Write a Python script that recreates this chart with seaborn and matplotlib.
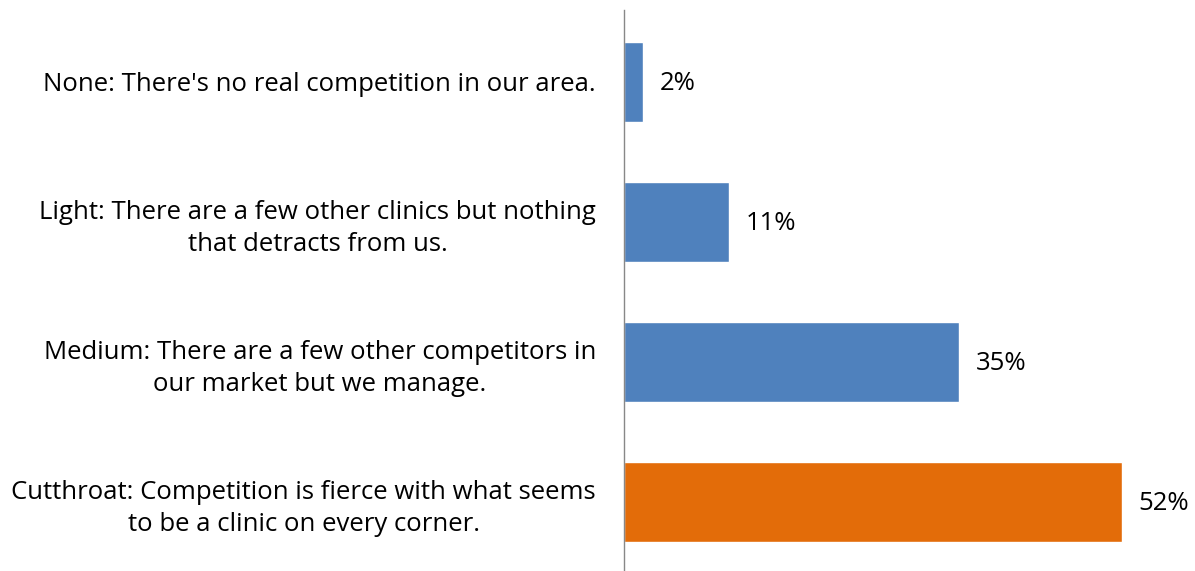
import matplotlib
matplotlib.use("Agg")
import matplotlib.pyplot as plt
import seaborn as sns
import pandas as pd

categories = [
    "None: There's no real competition in our area.",
    "Light: There are a few other clinics but nothing\nthat detracts from us.",
    "Medium: There are a few other competitors in\nour market but we manage.",
    "Cutthroat: Competition is fierce with what seems\nto be a clinic on every corner.",
]
values = [2, 11, 35, 52]
labels = ["2%", "11%", "35%", "52%"]
colors = ["#4F81BD", "#4F81BD", "#4F81BD", "#E36C09"]

sns.set_style("white")
plt.rcParams['font.family'] = ['Open Sans', 'DejaVu Sans']

df = pd.DataFrame({"cat": categories, "val": values})

fig = plt.figure(figsize=(11.95, 5.71), dpi=100)
ax = fig.add_axes([0.522, 0.0, 0.478, 0.982])
sns.barplot(data=df, x="val", y="cat", hue="cat", palette=colors,
            width=0.57, legend=False, ax=ax, saturation=1)

for i, (v, lab) in enumerate(zip(values, labels)):
    ax.text(v + 1.7, i + 0.01, lab, va="center", ha="left", fontsize=18.5, color="black")

ax.set_xlim(0, 59.6)
ax.set_ylim(3.49, -0.51)
ax.set_xlabel("")
ax.set_ylabel("")
ax.set_xticks([])
for s in ["top", "right", "bottom"]:
    ax.spines[s].set_visible(False)
ax.spines["left"].set_color("#888888")
ax.spines["left"].set_linewidth(1)
ax.tick_params(axis="y", length=0, pad=20)
for t in ax.get_yticklabels():
    t.set_fontsize(18.5)
    t.set_color("black")
    t.set_multialignment("center")
    t.set_linespacing(1.35)

fig.savefig("out.png", dpi=100)
